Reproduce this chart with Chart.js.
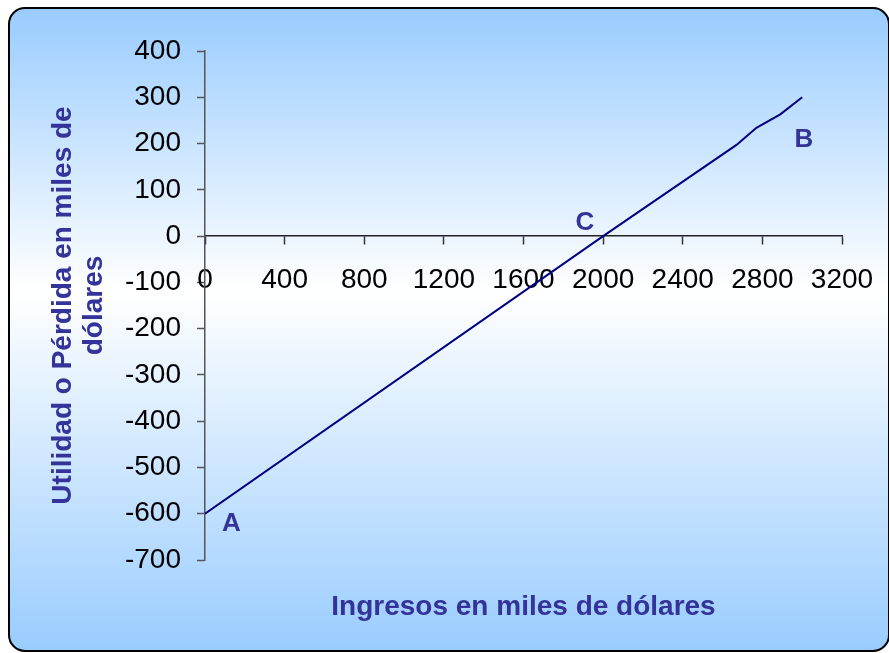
<!DOCTYPE html>
<html>
<head>
<meta charset="utf-8">
<script src="https://cdn.jsdelivr.net/npm/chart.js@4"></script>
<style>
  html, body { margin: 0; padding: 0; background: #ffffff; }
  #wrap { width: 889px; height: 653px; }
</style>
</head>
<body>
<div id="wrap"><canvas id="chart" width="889" height="653"></canvas></div>
<script>
// Break-even line: income (thousands of dollars) vs. profit or loss
const ingresos = [0, 2000, 2670, 2770, 2890, 3000];
const utilidad = [-600, 0, 197, 234, 263, 300];

// Axis ranges and tick steps
const xTicks = { min: 0, max: 3200, step: 400 };
const yTicks = { min: -700, max: 400, step: 100 };

// Point annotations
const marcaTexto = ['A', 'B', 'C'];
const marcaX = [133, 3009, 1909];
const marcaY = [-622, 208, 28];

const tituloX = 'Ingresos en miles de dólares';
const tituloY = ['Utilidad o Pérdida en miles de', 'dólares'];

const FONT = "'Liberation Sans', Arial, sans-serif";
const TITLE_COLOR = '#333399';

const puntos = ingresos.map((x, i) => ({ x, y: utilidad[i] }));

// Rounded panel with a blue-white-blue vertical gradient
const panelPlugin = {
  id: 'panel',
  beforeDraw(chart) {
    const ctx = chart.ctx;
    const x = 9, y = 8, w = 880, h = 643, r = 16;
    ctx.save();
    ctx.fillStyle = '#ffffff';
    ctx.fillRect(0, 0, chart.width, chart.height);
    const g = ctx.createLinearGradient(0, y, 0, y + h);
    g.addColorStop(0, '#99CCFF');
    g.addColorStop(0.44, '#FFFFFF');
    g.addColorStop(1, '#99CCFF');
    ctx.beginPath();
    ctx.moveTo(x + r, y);
    ctx.lineTo(x + w - r, y);
    ctx.arcTo(x + w, y, x + w, y + r, r);
    ctx.lineTo(x + w, y + h - r);
    ctx.arcTo(x + w, y + h, x + w - r, y + h, r);
    ctx.lineTo(x + r, y + h);
    ctx.arcTo(x, y + h, x, y + h - r, r);
    ctx.lineTo(x, y + r);
    ctx.arcTo(x, y, x + r, y, r);
    ctx.closePath();
    ctx.fillStyle = g;
    ctx.fill();
    ctx.lineWidth = 2;
    ctx.strokeStyle = '#000000';
    ctx.stroke();
    ctx.restore();
  }
};

// Letters placed at data coordinates
const marcasPlugin = {
  id: 'marcas',
  afterDatasetsDraw(chart) {
    const ctx = chart.ctx;
    const sx = chart.scales.x, sy = chart.scales.y;
    ctx.save();
    ctx.font = 'bold 26px ' + FONT;
    ctx.fillStyle = TITLE_COLOR;
    ctx.textAlign = 'center';
    ctx.textBaseline = 'middle';
    marcaTexto.forEach((t, i) => {
      ctx.fillText(t, sx.getPixelForValue(marcaX[i]), sy.getPixelForValue(marcaY[i]));
    });
    ctx.restore();
  }
};

new Chart(document.getElementById('chart'), {
  type: 'scatter',
  data: {
    datasets: [{
      data: puntos,
      showLine: true,
      borderColor: '#000080',
      borderWidth: 2,
      pointRadius: 0,
      pointHoverRadius: 0,
      tension: 0,
      fill: false
    }]
  },
  options: {
    responsive: false,
    animation: false,
    devicePixelRatio: 1,
    events: [],
    layout: { padding: { left: 9, top: 51, right: 47, bottom: 93 } },
    plugins: { legend: { display: false }, tooltip: { enabled: false } },
    scales: {
      x: {
        type: 'linear',
        position: { y: 0 },
        min: xTicks.min,
        max: xTicks.max,
        afterFit(scale) {
          scale.height = 387;
          scale.paddingLeft = 0;
          scale.paddingRight = 0;
        },
        ticks: {
          stepSize: xTicks.step,
          color: '#000000',
          padding: 19,
          maxRotation: 0,
          autoSkip: false,
          callback: (v) => String(v),
          font: { family: FONT, size: 28 }
        },
        grid: { drawOnChartArea: false, tickLength: 8, tickColor: '#333333', tickWidth: 1.5 },
        border: { color: '#222222', width: 1.5 },
        title: {
          display: true,
          text: tituloX,
          color: TITLE_COLOR,
          padding: 0,
          font: { family: FONT, size: 28, weight: 'bold', lineHeight: 1.1 }
        }
      },
      y: {
        type: 'linear',
        position: 'left',
        min: yTicks.min,
        max: yTicks.max,
        afterFit(scale) { scale.width = 196; },
        ticks: {
          stepSize: yTicks.step,
          color: '#000000',
          padding: 16,
          autoSkip: false,
          callback: (v) => String(v),
          font: { family: FONT, size: 28 }
        },
        grid: { drawOnChartArea: false, tickLength: 8, tickColor: '#555555', tickWidth: 1.5 },
        border: { color: '#555555', width: 1.5 },
        title: {
          display: true,
          text: tituloY,
          color: TITLE_COLOR,
          padding: { top: 39, bottom: 0 },
          font: { family: FONT, size: 28, weight: 'bold', lineHeight: 1.1 }
        }
      }
    }
  },
  plugins: [panelPlugin, marcasPlugin]
});
</script>
</body>
</html>
